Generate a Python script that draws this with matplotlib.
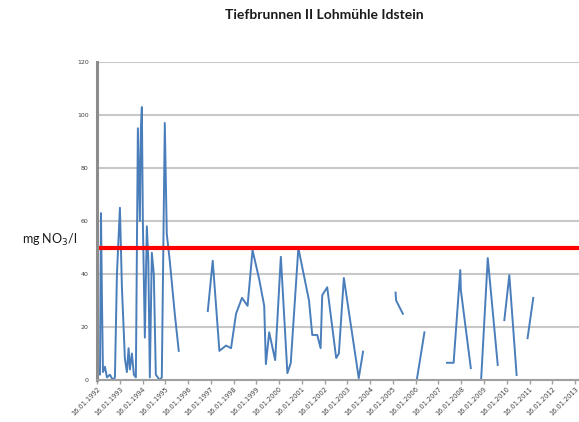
import numpy as np
import pandas as pd
import matplotlib
matplotlib.use("Agg")
import matplotlib.pyplot as plt
import matplotlib.dates as mdates

# Nitratwerte Tiefbrunnen II (mg NO3/l), None = Messlücke
dates = [
    "1992-01-16", "1992-02-01", "1992-03-04", "1992-03-20", "1992-04-05", "1992-04-21",
    "1992-05-23", "1992-06-24", "1992-08-11", "1992-09-28", "1992-10-30", "1992-12-01",
    "1993-01-18", "1993-02-19", "1993-04-08", "1993-05-10", "1993-06-06", "1993-06-27",
    "1993-07-29", "1993-08-30", "1993-10-01", "1993-11-02", "1993-12-04", "1993-12-20",
    "1994-01-05", "1994-01-21", "1994-02-22", "1994-03-26", "1994-04-19", "1994-05-13",
    "1994-06-14", "1994-07-16", "1994-08-17", "1994-10-20", "1994-11-21", "1995-01-08",
    "1995-02-09", "1995-03-29", "1995-06-17", "1995-08-20",
    "1996-03-01",
    "1996-11-28", "1997-02-15", "1997-06-02", "1997-09-17", "1997-12-06", "1998-02-24",
    "1998-05-31", "1998-08-28", "1998-11-16", "1999-03-03", "1999-05-22", "1999-06-18",
    "1999-08-10", "1999-11-14", "2000-02-13", "2000-05-28", "2000-07-21", "2000-11-20",
    "2001-05-10", "2001-07-01", "2001-09-19", "2001-11-12", "2001-12-08", "2002-02-26",
    "2002-07-20", "2002-09-01", "2002-11-20", "2003-07-17", "2003-09-24",
    "2004-06-01",
    "2005-02-27", "2005-03-08", "2005-06-24",
    "2005-10-01",
    "2006-02-07", "2006-06-05",
    "2006-12-01",
    "2007-06-01", "2007-09-16", "2008-01-01", "2008-01-10", "2008-06-18",
    "2008-09-01",
    "2008-12-01", "2009-03-17", "2009-08-24",
    "2009-10-15",
    "2009-12-08", "2010-02-26", "2010-06-23",
    "2010-09-01",
    "2010-12-16", "2011-03-17",
]
values = [
    20, 5, 2, 63, 30, 3,
    5, 1, 2, 0, 1, 40,
    65, 35, 8, 3, 12, 4,
    10, 2, 1, 95, 60, 95,
    103, 60, 16, 58, 45, 1,
    48, 40, 2, 0, 1, 97,
    55, 45, 25, 11,
    None,
    26, 45, 11, 13, 12, 25,
    31, 28, 49, 38, 28, 6,
    18, 7.5, 46.5, 2.6, 6.4, 49.8,
    30, 17, 17, 12, 32, 35,
    8.3, 10, 38.5, 0.7, 10.7,
    None,
    33, 30, 25,
    None,
    0.7, 18,
    None,
    6.5, 6.5, 41.5, 34, 4.5,
    None,
    0.3, 46, 5.7,
    None,
    22.6, 39.6, 1.9,
    None,
    15.8, 31,
]
limit = 50  # Grenzwert
tick_years = list(range(1992, 2014))

x = pd.to_datetime(dates)
y = np.array([np.nan if v is None else v for v in values], dtype=float)

fig = plt.figure(figsize=(5.79, 4.22), dpi=100)
ax = fig.add_axes([0.1675, 0.0995, 0.8325, 0.7535])

ax.plot(x, y, color="#4a7ebb", lw=1.4)
ax.axhline(limit, color="#ff0000", lw=3)

ticks = pd.to_datetime([f"{yr}-01-16" for yr in tick_years])
ax.set_xticks(ticks)
ax.xaxis.set_major_formatter(mdates.DateFormatter("%d.%m.%Y"))
ax.set_xlim(pd.Timestamp("1992-01-16"), pd.Timestamp("2013-03-20"))
ax.set_ylim(0, 120)
ax.set_yticks(range(0, 121, 20))

ax.grid(axis="y", color="#c8c8c8", lw=1.5)
ax.set_axisbelow(True)
for s in ("top", "right"):
    ax.spines[s].set_visible(False)
ax.spines["left"].set_color("#8c8c8c")
ax.spines["left"].set_linewidth(2.2)
ax.spines["bottom"].set_color("#a0a0a0")
ax.spines["bottom"].set_linewidth(1.5)

ax.tick_params(axis="y", length=0, pad=6, labelsize=4.5, labelcolor="#404040")
ax.tick_params(axis="x", length=3, width=1, color="#a0a0a0", pad=1,
               labelsize=4.8, labelcolor="#404040")
for lab in ax.get_xticklabels():
    lab.set_rotation(45)
    lab.set_ha("right")
    lab.set_va("top")
    lab.set_rotation_mode("anchor")

fig.text(0.56, 0.964, "Tiefbrunnen II Lohmühle Idstein", ha="center", va="center",
         fontsize=10, fontweight="bold", family="Lato", color="#1a1a1a")
fig.text(0.038, 0.431, "mg NO$_3$/l", ha="left", va="center",
         fontsize=9, family="Lato", color="#1a1a1a")

fig.savefig("out.png", dpi=100)
